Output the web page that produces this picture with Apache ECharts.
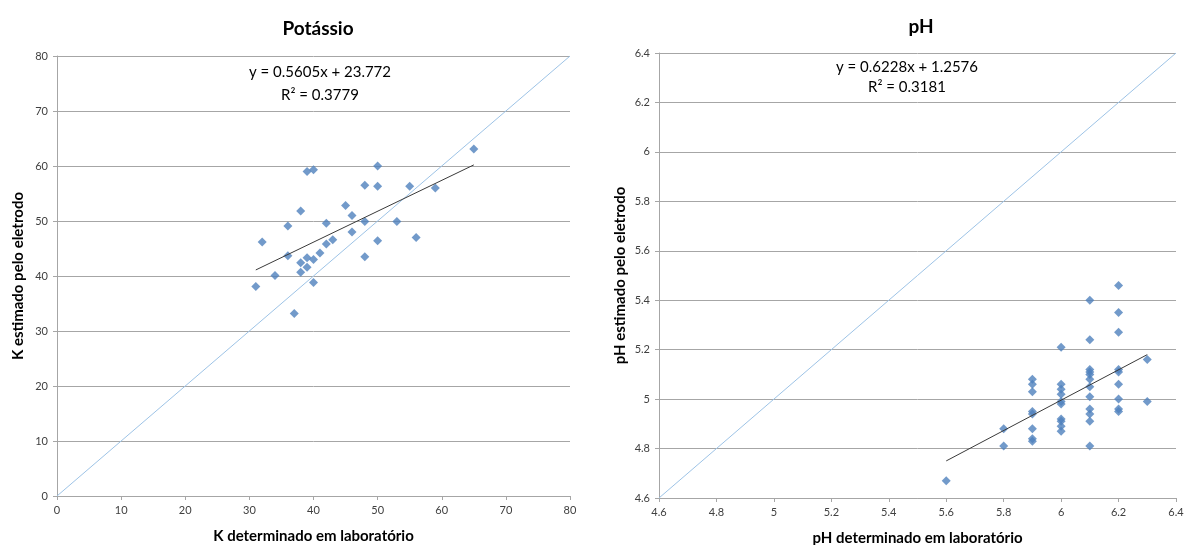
<!DOCTYPE html>
<html>
<head>
<meta charset="utf-8">
<script src="https://cdn.jsdelivr.net/npm/echarts@6/dist/echarts.min.js"></script>
<style>
html,body{margin:0;padding:0;background:#fff;}
#c{width:1184px;height:545px;}
</style>
</head>
<body>
<div id="c"></div>
<script>
// ---- Potássio (K) data ----
const kLab = [65,50,39,40,48,50,55,59,38,45,46,48,53,36,42,46,50,56,32,43,42,41,36,39,40,38,48,39,38,34,31,40,37];
const kEst = [63.1,60.0,59.0,59.3,56.5,56.3,56.3,56.0,51.8,52.8,51.0,49.9,49.9,49.1,49.6,48.0,46.4,47.0,46.2,46.6,45.8,44.2,43.7,43.3,43.0,42.4,43.5,41.6,40.7,40.1,38.1,38.8,33.2];
const kTrendX = [31, 65];
const kTrendY = [41.1, 60.2];
const kLineX = [0, 80];
const kLineY = [0, 80];
const kEquation = ['y = 0.5605x + 23.772', 'R² = 0.3779'];

// ---- pH data ----
const phLab = [5.6,5.8,5.8,
  5.9,5.9,5.9,5.9,5.9,5.9,5.9,5.9,
  6.0,6.0,6.0,6.0,6.0,6.0,6.0,6.0,6.0,6.0,
  6.1,6.1,6.1,6.1,6.1,6.1,6.1,6.1,6.1,6.1,6.1,6.1,
  6.2,6.2,6.2,6.2,6.2,6.2,6.2,6.2,6.2,
  6.3,6.3];
const phEst = [4.67,4.88,4.81,
  5.08,5.06,5.03,4.95,4.94,4.88,4.84,4.83,
  5.21,5.06,5.04,5.02,4.99,4.98,4.92,4.91,4.89,4.87,
  5.40,5.24,5.12,5.11,5.10,5.08,5.05,5.01,4.96,4.94,4.91,4.81,
  5.46,5.35,5.27,5.12,5.11,5.06,5.00,4.96,4.95,
  5.16,4.99];
const phTrendX = [5.6, 6.3];
const phTrendY = [4.75, 5.18];
const phLineX = [4.6, 6.4];
const phLineY = [4.6, 6.4];
const phEquation = ['y = 0.6228x + 1.2576', 'R² = 0.3181'];

const titles = ['Potássio', 'pH'];
const xNames = ['K determinado em laboratório', 'pH determinado em laboratório'];
const yNames = ['K estimado pelo eletrodo', 'pH estimado pelo eletrodo'];

const zip = (a, b) => a.map((v, i) => [v, b[i]]);
const FONT = 'Lato';
const gridColor = '#a6a6a6';
const labelColor = '#404040';

function xAxis(idx, min, max, interval, name, fmt) {
  return {
    type: 'value', gridIndex: idx, min, max, interval,
    name, nameLocation: 'middle', nameGap: 33,
    nameTextStyle: {fontFamily: FONT, fontWeight: 'bold', fontSize: 15, color: '#000'},
    axisLine: {show: true, onZero: false, lineStyle: {color: gridColor, width: 1}},
    axisTick: {show: true, length: 4, lineStyle: {color: gridColor}},
    axisLabel: {fontFamily: FONT, fontSize: 11, color: labelColor, margin: 9, formatter: fmt},
    splitLine: {show: false}
  };
}
function yAxis(idx, min, max, interval, name, fmt) {
  return {
    type: 'value', gridIndex: idx, min, max, interval,
    name, nameLocation: 'middle', nameGap: 31, nameRotate: 90,
    nameTextStyle: {fontFamily: FONT, fontWeight: 'bold', fontSize: 15, color: '#000'},
    axisLine: {show: true, onZero: false, lineStyle: {color: gridColor, width: 1}},
    axisTick: {show: true, length: 4, lineStyle: {color: gridColor}},
    axisLabel: {fontFamily: FONT, fontSize: 11, color: labelColor, margin: 9, formatter: fmt},
    splitLine: {show: true, lineStyle: {color: gridColor, width: 1}}
  };
}
const phFmt = v => String(+v.toFixed(1));

const chart = echarts.init(document.getElementById('c'), null, {renderer: 'canvas'});
chart.setOption({
  animation: false,
  backgroundColor: '#fff',
  title: [
    {text: titles[0], left: 313, top: 14, textAlign: 'center',
     textStyle: {fontFamily: FONT, fontWeight: 'bold', fontSize: 19, color: '#000'}},
    {text: titles[1], left: 916, top: 12, textAlign: 'center',
     textStyle: {fontFamily: FONT, fontWeight: 'bold', fontSize: 19, color: '#000'}}
  ],
  grid: [
    {left: 57, right: 614, top: 56, bottom: 49, containLabel: false, outerBoundsMode: 'none'},
    {left: 659, right: 8, top: 53, bottom: 47, containLabel: false, outerBoundsMode: 'none'}
  ],
  xAxis: [
    xAxis(0, 0, 80, 10, xNames[0]),
    xAxis(1, 4.6, 6.4, 0.2, xNames[1], phFmt)
  ],
  yAxis: [
    yAxis(0, 0, 80, 10, yNames[0]),
    yAxis(1, 4.6, 6.4, 0.2, yNames[1], phFmt)
  ],
  graphic: [
    {type: 'text', x: 320, y: 72, style: {text: kEquation[0], fontFamily: FONT, fontSize: 15, fill: '#000', align: 'center', verticalAlign: 'middle'}},
    {type: 'text', x: 320, y: 95, style: {text: kEquation[1], fontFamily: FONT, fontSize: 15, fill: '#000', align: 'center', verticalAlign: 'middle'}},
    {type: 'text', x: 907, y: 67, style: {text: phEquation[0], fontFamily: FONT, fontSize: 15, fill: '#000', align: 'center', verticalAlign: 'middle'}},
    {type: 'text', x: 907, y: 87, style: {text: phEquation[1], fontFamily: FONT, fontSize: 15, fill: '#000', align: 'center', verticalAlign: 'middle'}}
  ],
  series: [
    {type: 'line', xAxisIndex: 0, yAxisIndex: 0, data: zip(kLineX, kLineY), symbol: 'none',
     lineStyle: {color: '#9dc3e6', width: 1}, z: 1, silent: true},
    {type: 'scatter', xAxisIndex: 0, yAxisIndex: 0, data: zip(kLab, kEst), symbol: 'diamond', symbolSize: 9,
     itemStyle: {color: '#4f81bd'}, z: 2},
    {type: 'line', xAxisIndex: 0, yAxisIndex: 0, data: zip(kTrendX, kTrendY), symbol: 'none',
     lineStyle: {color: '#3a3a3a', width: 1}, z: 3, silent: true},
    {type: 'line', xAxisIndex: 1, yAxisIndex: 1, data: zip(phLineX, phLineY), symbol: 'none',
     lineStyle: {color: '#9dc3e6', width: 1}, z: 1, silent: true},
    {type: 'scatter', xAxisIndex: 1, yAxisIndex: 1, data: zip(phLab, phEst), symbol: 'diamond', symbolSize: 9,
     itemStyle: {color: '#4f81bd'}, z: 2},
    {type: 'line', xAxisIndex: 1, yAxisIndex: 1, data: zip(phTrendX, phTrendY), symbol: 'none',
     lineStyle: {color: '#3a3a3a', width: 1}, z: 3, silent: true}
  ]
});
</script>
</body>
</html>
